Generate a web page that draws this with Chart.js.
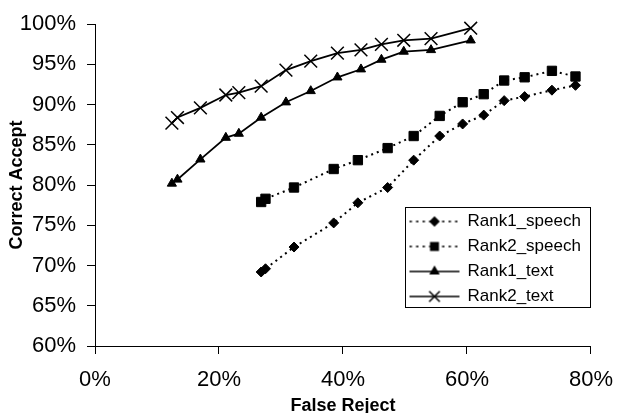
<!DOCTYPE html>
<html><head><meta charset="utf-8">
<script src="https://cdn.jsdelivr.net/npm/chart.js@4.4.1/dist/chart.umd.min.js"></script>
<style>html,body{margin:0;padding:0;background:#fff;}</style>
</head><body>
<canvas id="c" width="626" height="413"></canvas>
<script>
// ---- data ----
const seriesNames = ['Rank1_speech', 'Rank2_speech', 'Rank1_text', 'Rank2_text'];
const speechFalseReject = [26.8, 27.5, 32.1, 38.5, 42.4, 47.2, 51.4, 55.6, 59.3, 62.7, 66.0, 69.3, 73.7, 77.5];
const textFalseReject   = [12.4, 13.3, 17.0, 21.1, 23.2, 26.8, 30.8, 34.8, 39.1, 42.9, 46.2, 49.8, 54.2, 60.6];
const rank1Speech = [69.2, 69.6, 72.3, 75.3, 77.8, 79.7, 83.1, 86.1, 87.6, 88.7, 90.5, 91.0, 91.8, 92.4];
const rank2Speech = [77.9, 78.3, 79.7, 82.0, 83.1, 84.6, 86.1, 88.6, 90.3, 91.3, 93.0, 93.4, 94.2, 93.5];
const rank1Text   = [80.2, 80.7, 83.2, 85.9, 86.4, 88.4, 90.3, 91.7, 93.4, 94.4, 95.6, 96.6, 96.8, 98.0];
const rank2Text   = [87.7, 88.4, 89.6, 91.2, 91.5, 92.3, 94.3, 95.4, 96.4, 96.8, 97.5, 98.0, 98.2, 99.5];
const xTickValues = [0, 20, 40, 60, 80];
const yTickValues = [60, 65, 70, 75, 80, 85, 90, 95, 100];
const xTitle = 'False Reject';
const yTitle = 'Correct Accept';

Chart.defaults.font.family = "'Liberation Sans', Arial, sans-serif";
Chart.defaults.color = '#000';

const toPoints = (xs, ys) => xs.map((x, i) => ({x: x, y: ys[i]}));

const styles = [
  {dash: [2, 4], width: 2, pointStyle: 'rectRot', radius: 5, legendRadius: 4.2},
  {dash: [2, 4], width: 2, pointStyle: 'rect', radius: 6.6, legendRadius: 5.2},
  {dash: [], width: 1.8, pointStyle: 'triangle', radius: 5.3, legendRadius: 4.6},
  {dash: [], width: 1.8, pointStyle: 'crossRot', radius: 9, legendRadius: 7.5}
];

function drawMarker(ctx, style, r, x, y) {
  if (Chart.helpers && Chart.helpers.drawPoint) {
    Chart.helpers.drawPoint(ctx, {pointStyle: style, radius: r, borderWidth: 1.5, rotation: 0}, x, y);
  }
}
function makeSwatch(s) {
  const c = document.createElement('canvas');
  c.width = 52; c.height = 18;
  const g = c.getContext('2d');
  g.strokeStyle = '#000'; g.fillStyle = '#000';
  g.lineWidth = s.dash.length ? 1.6 : 1.5;
  g.setLineDash(s.dash.length ? [2.5, 4] : []);
  g.beginPath(); g.moveTo(1, 9); g.lineTo(51, 9); g.stroke();
  g.setLineDash([]);
  drawMarker(g, s.pointStyle, s.legendRadius, 26, 9);
  return c;
}
const swatches = styles.map(makeSwatch);

const ySeries = [rank1Speech, rank2Speech, rank1Text, rank2Text];
const xSeries = [speechFalseReject, speechFalseReject, textFalseReject, textFalseReject];

const datasets = seriesNames.map((name, i) => ({
  label: name,
  data: toPoints(xSeries[i], ySeries[i]),
  borderColor: '#000',
  backgroundColor: '#000',
  borderWidth: styles[i].width,
  borderDash: styles[i].dash,
  pointStyle: styles[i].pointStyle,
  pointRadius: styles[i].radius,
  pointHoverRadius: styles[i].radius,
  pointBackgroundColor: '#000',
  pointBorderColor: '#000',
  pointBorderWidth: styles[i].pointStyle === 'crossRot' ? 1.5 : 1,
  tension: 0,
  fill: false,
  clip: false
}));

const legendPlacer = {
  id: 'legendPlacer',
  afterLayout(chart) {
    const lg = chart.legend;
    if (!lg) return;
    lg.left = 402; lg.top = 205; lg.right = 590; lg.bottom = 400;
  },
  afterDraw(chart) {
    const ctx = chart.ctx;
    ctx.save();
    ctx.strokeStyle = '#000'; ctx.lineWidth = 1;
    ctx.strokeRect(405.5, 207.5, 185, 100);
    ctx.restore();
  }
};

new Chart(document.getElementById('c'), {
  type: 'line',
  data: {datasets: datasets},
  plugins: [legendPlacer],
  options: {
    responsive: false,
    animation: false,
    devicePixelRatio: 1,
    layout: {padding: {left: 0, top: 24, right: 26, bottom: 0}},
    plugins: {
      tooltip: {enabled: false},
      legend: {
        display: true,
        position: 'chartArea',
        align: 'start',
        labels: {
          usePointStyle: true,
          pointStyleWidth: 49,
          padding: 8,
          color: '#000',
          font: {size: 17},
          generateLabels: (chart) => chart.data.datasets.map((ds, i) => ({
            text: ds.label, pointStyle: swatches[i], datasetIndex: i, hidden: false,
            lineWidth: 0, fillStyle: 'rgba(0,0,0,0)', strokeStyle: 'rgba(0,0,0,0)', fontColor: '#000'
          }))
        }
      }
    },
    scales: {
      x: {
        type: 'linear', min: 0, max: 80,
        afterBuildTicks: (s) => { s.ticks = xTickValues.map(v => ({value: v})); },
        afterFit: (s) => { s.height = 67; },
        ticks: {color: '#000', font: {size: 22}, padding: 13, maxRotation: 0, callback: (v) => v + '%'},
        grid: {drawOnChartArea: false, drawTicks: true, tickLength: 8, color: '#000', tickColor: '#000', lineWidth: 1},
        border: {display: true, color: '#000', width: 1},
        title: {display: true, text: xTitle, color: '#000', font: {size: 18, weight: 'bold', lineHeight: 0.8}, padding: {top: 0, bottom: 0}}
      },
      y: {
        type: 'linear', min: 60, max: 100,
        afterBuildTicks: (s) => { s.ticks = yTickValues.map(v => ({value: v})); },
        afterFit: (s) => { s.width = 95; },
        ticks: {color: '#000', font: {size: 22}, padding: 11, callback: (v) => v + '%'},
        grid: {drawOnChartArea: false, drawTicks: true, tickLength: 8, color: '#000', tickColor: '#000', lineWidth: 1},
        border: {display: true, color: '#000', width: 1},
        title: {display: true, text: yTitle, color: '#000', font: {size: 18, weight: 'bold', lineHeight: 1.2}, padding: {top: 6.3, bottom: 0}}
      }
    }
  }
});
</script>
</body></html>
